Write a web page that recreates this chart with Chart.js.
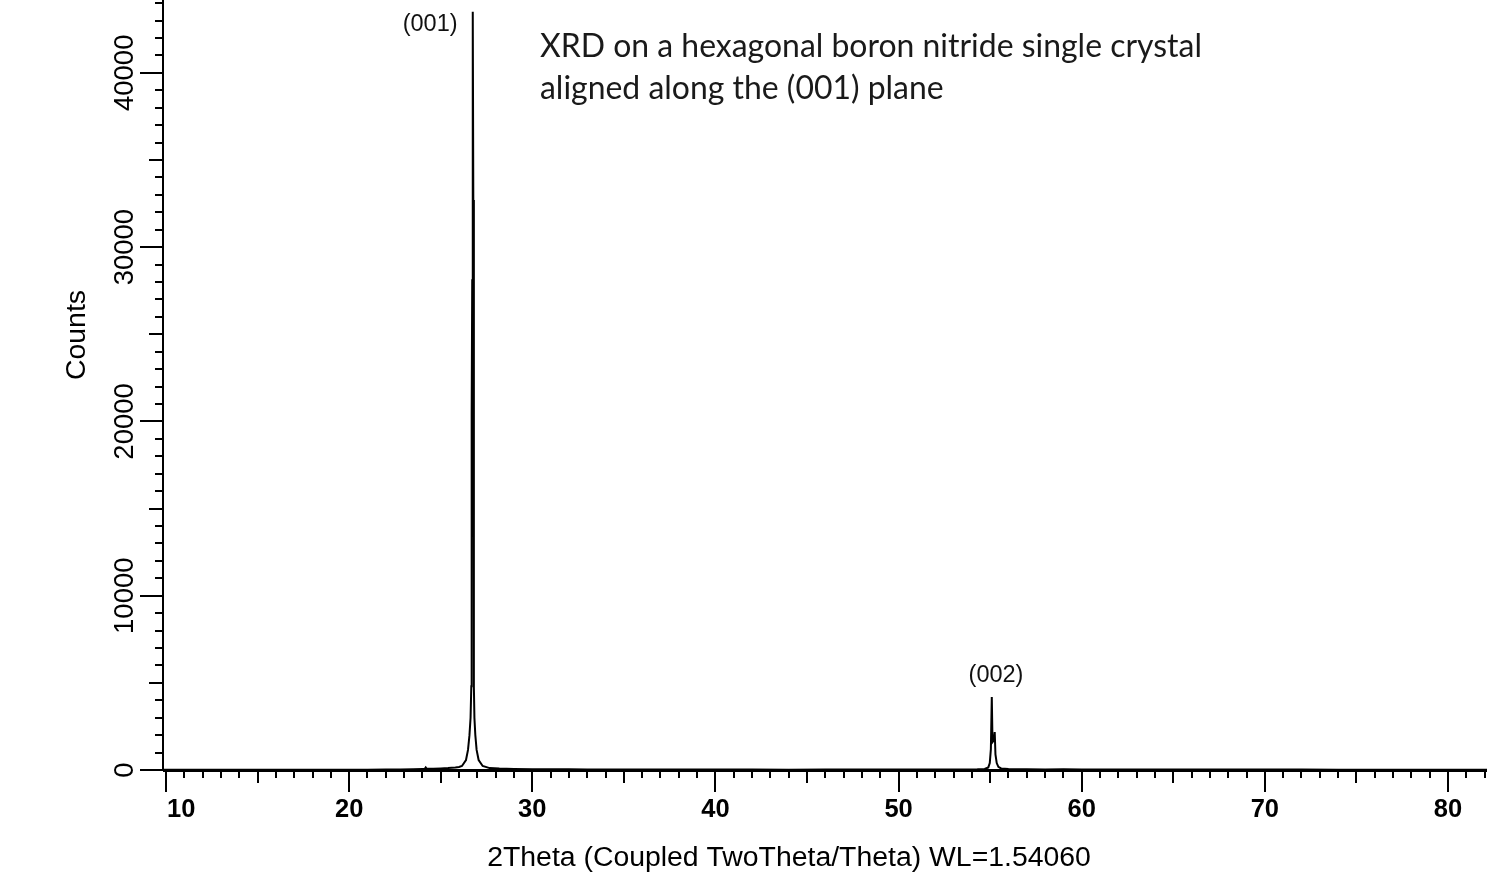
<!DOCTYPE html>
<html><head><meta charset="utf-8">
<script src="https://cdn.jsdelivr.net/npm/chart.js@4"></script>
<style>html,body{margin:0;padding:0;background:#fff}#wrap{width:1500px;height:892px;position:relative}</style>
</head><body><div id="wrap"><canvas id="c" width="1500" height="892"></canvas></div>
<script>
const twoTheta = [9.84,11,12,13,14,15,16,17,18,19,20,21,22,22.8,23.5,24.0,24.12,24.18,24.24,24.6,25.0,25.4,25.8,26.0,26.16,26.38,26.49,26.57,26.63,26.67,26.69,26.72,26.75,26.78,26.81,26.84,26.89,26.96,27.07,27.29,27.67,28.2,29,30,31,32,33,34,36,38,40,42,44,46,48,50,52,53.5,54.3,54.7,54.9,54.98,55.04,55.09,55.13,55.20,55.25,55.29,55.36,55.45,55.6,56,57,58,59,60,62,64,66,68,70,72,74,76,78,80,82.13];
const counts   = [10,12,8,14,10,12,15,12,16,14,18,20,26,35,45,55,60,150,65,75,90,110,140,170,230,570,1150,2000,3000,4800,20400,28100,43500,32700,4800,3000,2000,1150,570,230,110,80,60,50,42,38,30,28,25,24,22,22,20,22,24,26,30,35,45,60,150,400,1200,4190,1600,1700,2180,900,400,180,90,55,40,35,45,30,32,28,26,24,22,22,20,20,18,18,16];
const xTickLabels = [10,20,30,40,50,60,70,80];
const yTickLabels = [0,10000,20000,30000,40000];
const peakLabels = ['(001)','(002)'];
const peakLabelX = [24.42,55.32];
const peakLabelY = [42400,5050];
const titleLines = ['XRD on a hexagonal boron nitride single crystal','aligned along the (001) plane'];
const xTitle = '2Theta (Coupled TwoTheta/Theta) WL=1.54060';
const yTitle = 'Counts';

const axesPlugin = {
  id: 'xrdAxes',
  afterDraw(chart) {
    const {ctx, chartArea: a, scales: {x, y}} = chart;
    ctx.save();
    ctx.strokeStyle = '#000'; ctx.fillStyle = '#000';
    const seg = (x1, y1, x2, y2) => { ctx.beginPath(); ctx.moveTo(x1, y1); ctx.lineTo(x2, y2); ctx.stroke(); };
    ctx.lineWidth = 2; seg(a.left, a.top, a.left, a.bottom);
    ctx.lineWidth = 3; seg(a.left, a.bottom + 0.5, a.right, a.bottom + 0.5);
    ctx.lineWidth = 2;
    for (let v = 0; v <= y.max; v += 1000) {
      const py = Math.round(y.getPixelForValue(v));
      const len = v % 10000 === 0 ? 23 : (v % 5000 === 0 ? 14 : 8);
      seg(a.left - len, py, a.left, py);
    }
    for (let v = 10; v <= x.max; v += 1) {
      const px = Math.round(x.getPixelForValue(v));
      const len = v % 10 === 0 ? 22 : (v % 5 === 0 ? 13 : 8);
      seg(px, a.bottom, px, a.bottom + len);
    }
    ctx.font = "27.5px 'Liberation Sans', Arial, sans-serif";
    ctx.textAlign = 'center'; ctx.textBaseline = 'alphabetic';
    yTickLabels.forEach(v => {
      const py = y.getPixelForValue(v);
      ctx.save(); ctx.translate(a.left - 30, py); ctx.rotate(-Math.PI / 2);
      ctx.fillText(String(v), 0, 0); ctx.restore();
    });
    ctx.font = "bold 25.5px 'Liberation Sans', Arial, sans-serif";
    xTickLabels.forEach(v => {
      const w = ctx.measureText(String(v)).width;
      let px = x.getPixelForValue(v);
      px = Math.max(px, a.left + 4 + w / 2);
      ctx.fillText(String(v), px, a.bottom + 47);
    });
    ctx.font = "28.4px 'Liberation Sans', Arial, sans-serif";
    ctx.fillText(xTitle, 789, 866);
    ctx.save(); ctx.translate(85, 335); ctx.rotate(-Math.PI / 2); ctx.fillText(yTitle, 0, 0); ctx.restore();
    ctx.font = "23.5px 'Liberation Sans', Arial, sans-serif";
    ctx.fillStyle = '#111';
    peakLabels.forEach((t, i) => ctx.fillText(t, x.getPixelForValue(peakLabelX[i]), y.getPixelForValue(peakLabelY[i])));
    ctx.textAlign = 'left';
    ctx.font = "28px Lato, 'Open Sans', sans-serif";
    const w0 = ctx.measureText(titleLines[0]).width;
    const fs = 28 * 662 / w0;
    ctx.font = fs.toFixed(2) + "px Lato, 'Open Sans', sans-serif";
    ctx.fillStyle = '#1a1a1a';
    ctx.fillText(titleLines[0], 540, 57);
    ctx.fillText(titleLines[1], 540, 99);
    ctx.restore();
  }
};

new Chart(document.getElementById('c'), {
  type: 'line',
  data: { datasets: [{ data: twoTheta.map((t, i) => ({x: t, y: counts[i]})), borderColor: '#000', borderWidth: 2, pointRadius: 0, tension: 0, fill: false }] },
  options: {
    responsive: false, animation: false, devicePixelRatio: 1,
    layout: { padding: { left: 163, right: 13, top: 0, bottom: 122 } },
    plugins: { legend: { display: false }, tooltip: { enabled: false }, title: { display: false } },
    scales: {
      x: { type: 'linear', min: 9.836, max: 82.13, display: false },
      y: { type: 'linear', min: 0, max: 44177, display: false }
    }
  },
  plugins: [axesPlugin]
});
</script></body></html>
